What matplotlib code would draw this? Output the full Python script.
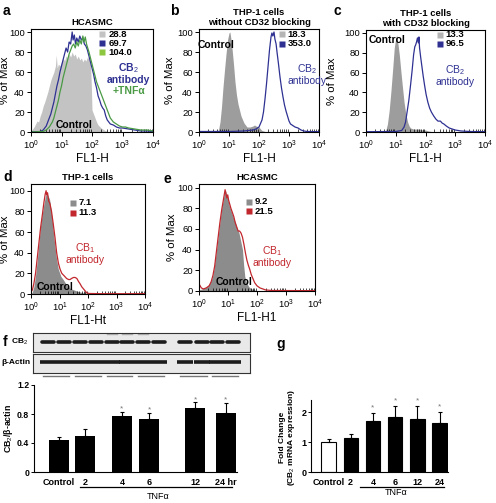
import numpy as np
import matplotlib
matplotlib.use("Agg")
import matplotlib.pyplot as plt
from matplotlib.ticker import LogLocator, NullFormatter
import matplotlib.transforms as mtrans

plt.rcParams['font.family'] = ['Liberation Sans', 'DejaVu Sans']
plt.rcParams['mathtext.fontset'] = 'custom'
plt.rcParams['mathtext.rm'] = 'Liberation Sans'
plt.rcParams['mathtext.bf'] = 'Liberation Sans:bold'
plt.rcParams['mathtext.it'] = 'Liberation Sans:italic'

# ---------------- data ----------------
# Panel a (HCASMC, CB2 +TNFa)
a_ctrl_logx = [0.0, 0.05, 0.1, 0.15, 0.2, 0.25, 0.3, 0.35, 0.4, 0.45, 0.5, 0.55, 0.6, 0.65, 0.7, 0.75, 0.8, 0.83, 0.86, 0.9, 0.95, 1.0, 1.05, 1.1, 1.15, 1.2, 1.25, 1.3, 1.35, 1.4, 1.45, 1.5, 1.55, 1.6, 1.65, 1.7, 1.75, 1.8, 1.85, 1.9, 1.95, 1.98, 2.0, 2.05, 2.1, 2.15, 2.2, 2.3, 2.4, 2.5, 2.6]
a_ctrl_pct = [1, 3, 5, 8, 11, 10, 16, 20, 26, 30, 35, 40, 46, 52, 56, 60, 66, 77, 64, 68, 66, 70, 74, 71, 76, 74, 78, 75, 80, 76, 78, 73, 76, 72, 74, 70, 73, 71, 75, 73, 70, 45, 22, 18, 14, 10, 7, 4, 2, 0.5, 0]
a_blue_logx = [0, 0.3, 0.4, 0.5, 0.55, 0.6, 0.65, 0.7, 0.75, 0.8, 0.85, 0.9, 0.95, 1.0, 1.05, 1.1, 1.15, 1.2, 1.25, 1.3, 1.35, 1.38, 1.42, 1.46, 1.5, 1.55, 1.6, 1.65, 1.7, 1.75, 1.8, 1.85, 1.9, 1.95, 2.0, 2.05, 2.1, 2.15, 2.2, 2.25, 2.3, 2.35, 2.4, 2.45, 2.5, 2.6, 2.7, 2.8, 2.9, 3.0, 3.2, 3.4, 3.6, 3.8, 4.0]
a_blue_pct = [0, 0.5, 2, 6, 10, 14, 18, 24, 30, 38, 46, 52, 60, 66, 72, 78, 84, 80, 90, 88, 100, 92, 97, 88, 94, 90, 96, 92, 94, 88, 86, 82, 76, 70, 64, 58, 50, 44, 36, 32, 27, 24, 22, 16, 12, 8, 7, 5, 4, 4, 3, 2, 1, 1, 0.5]
a_green_logx = [0, 0.4, 0.5, 0.6, 0.7, 0.75, 0.8, 0.85, 0.9, 0.95, 1.0, 1.05, 1.1, 1.15, 1.2, 1.25, 1.3, 1.35, 1.4, 1.45, 1.5, 1.55, 1.6, 1.65, 1.7, 1.74, 1.78, 1.82, 1.86, 1.9, 1.95, 2.0, 2.05, 2.1, 2.15, 2.2, 2.25, 2.3, 2.35, 2.4, 2.45, 2.5, 2.55, 2.6, 2.7, 2.8, 2.9, 3.0, 3.1, 3.2, 3.4, 3.6, 3.8, 4.0]
a_green_pct = [0, 0.5, 2, 5, 10, 14, 20, 26, 32, 40, 46, 54, 60, 66, 72, 78, 82, 86, 88, 84, 90, 86, 92, 88, 96, 90, 95, 88, 84, 80, 74, 68, 62, 56, 50, 46, 42, 38, 34, 30, 26, 22, 18, 14, 10, 8, 6, 5, 5, 4, 3, 2, 2, 1]
a_legend = ["28.8", "69.7", "104.0"]

# Panel b (THP-1 without CD32 blocking)
b_ctrl_logx = [0.6, 0.65, 0.7, 0.75, 0.8, 0.85, 0.9, 0.95, 1.0, 1.03, 1.06, 1.1, 1.15, 1.2, 1.25, 1.3, 1.4, 1.5, 1.6, 1.7, 1.8, 1.85, 1.9, 2.0, 2.05, 2.1, 2.2, 2.3]
b_ctrl_pct = [0, 2, 10, 25, 45, 62, 78, 92, 99, 100, 94, 84, 68, 50, 37, 28, 16, 9, 5, 5, 6, 7, 6, 5, 3, 1.5, 0.5, 0]
b_blue_logx = [0, 1.0, 1.5, 1.8, 1.9, 2.0, 2.1, 2.15, 2.2, 2.25, 2.3, 2.35, 2.4, 2.43, 2.46, 2.5, 2.53, 2.57, 2.6, 2.65, 2.7, 2.75, 2.8, 2.85, 2.9, 2.95, 3.0, 3.05, 3.1, 3.2, 3.3, 3.4, 3.5, 3.6, 4.0]
b_blue_pct = [0.5, 0.5, 1, 2, 3, 5, 12, 20, 33, 48, 65, 82, 95, 99, 96, 100, 93, 88, 80, 68, 55, 44, 35, 27, 21, 16, 11, 8, 7, 5, 4, 2, 1, 0.5, 0.3]
b_legend = ["18.3", "353.0"]

# Panel c (THP-1 with CD32 blocking)
c_ctrl_logx = [0.6, 0.66, 0.72, 0.78, 0.84, 0.9, 0.95, 1.0, 1.03, 1.07, 1.12, 1.17, 1.22, 1.28, 1.34, 1.4, 1.45, 1.5, 1.6, 1.7, 1.8, 1.9, 2.0, 2.1, 2.2, 2.3]
c_ctrl_pct = [0, 1, 8, 22, 42, 65, 85, 95, 98, 90, 78, 62, 47, 30, 18, 10, 6, 4, 3, 3, 3, 2, 2, 1, 0.5, 0]
c_blue_logx = [0, 1.0, 1.2, 1.28, 1.33, 1.38, 1.44, 1.5, 1.55, 1.6, 1.64, 1.67, 1.7, 1.73, 1.76, 1.78, 1.8, 1.84, 1.88, 1.92, 1.97, 2.02, 2.08, 2.14, 2.2, 2.28, 2.35, 2.42, 2.5, 2.56, 2.62, 2.7, 2.8, 2.9, 3.0, 3.2, 3.5, 4.0]
c_blue_pct = [0.3, 0.5, 1.5, 5, 10, 20, 32, 48, 62, 78, 86, 88, 91, 95, 90, 96, 85, 75, 66, 57, 47, 38, 30, 24, 20, 16, 13, 11, 11, 9, 8, 6, 4, 3, 2, 1, 0.5, 0.3]
c_legend = ["13.3", "96.5"]

# Panel d (THP-1, CB1)
d_ctrl_logx = [0, 0.05, 0.1, 0.16, 0.22, 0.28, 0.33, 0.38, 0.44, 0.5, 0.55, 0.6, 0.65, 0.7, 0.75, 0.8, 0.85, 0.9, 0.96, 1.05, 1.13, 1.22, 1.31, 1.4, 1.5, 1.6, 1.72, 1.85, 1.96, 2.1]
d_ctrl_pct = [0, 2, 7, 18, 33, 50, 65, 75, 85, 94, 98, 95, 92, 82, 70, 56, 44, 33, 24, 17, 14, 10, 7, 5, 4, 3, 2, 1, 0.5, 0]
d_red_logx = [0, 0.05, 0.1, 0.16, 0.22, 0.28, 0.34, 0.4, 0.45, 0.5, 0.53, 0.55, 0.58, 0.62, 0.66, 0.72, 0.78, 0.84, 0.9, 0.96, 1.02, 1.08, 1.15, 1.25, 1.32, 1.37, 1.42, 1.49, 1.55, 1.61, 1.67, 1.72, 1.78, 1.84, 1.9, 1.96, 2.05, 2.5, 4.0]
d_red_pct = [2, 4, 10, 20, 35, 50, 65, 77, 88, 97, 100, 96, 98, 90, 88, 80, 68, 55, 40, 30, 24, 20, 18, 15, 14, 14, 15, 16, 16, 15, 12, 10, 7, 5, 3, 1, 0.5, 0.3, 0.3]
d_legend = ["7.1", "11.3"]

# Panel e (HCASMC, CB1)
e_ctrl_logx = [0, 0.1, 0.2, 0.3, 0.4, 0.46, 0.52, 0.58, 0.64, 0.7, 0.76, 0.82, 0.88, 0.92, 0.96, 1.0, 1.05, 1.1, 1.15, 1.2, 1.26, 1.32, 1.38, 1.44, 1.5, 1.54, 1.58, 1.64, 1.72, 1.82, 1.92, 2.0]
e_ctrl_pct = [1, 2, 3, 5, 9, 13, 22, 35, 48, 62, 76, 86, 95, 97, 92, 88, 82, 78, 74, 70, 66, 60, 56, 48, 40, 25, 14, 8, 4, 2, 1, 0]
e_red_logx = [0, 0.04, 0.08, 0.15, 0.25, 0.35, 0.42, 0.48, 0.54, 0.6, 0.66, 0.72, 0.78, 0.84, 0.9, 0.93, 0.96, 0.99, 1.02, 1.06, 1.1, 1.15, 1.2, 1.25, 1.3, 1.35, 1.4, 1.45, 1.5, 1.55, 1.6, 1.65, 1.7, 1.75, 1.8, 1.86, 1.92, 2.0, 2.1, 2.2, 2.3, 2.5, 4.0]
e_red_pct = [7, 5, 3, 2, 3, 5, 9, 15, 24, 38, 52, 66, 78, 88, 98, 94, 90, 93, 88, 84, 80, 76, 72, 66, 62, 58, 58, 56, 52, 45, 37, 30, 25, 21, 16, 12, 8, 5, 3, 2, 1, 0.5, 0.3]
e_legend = ["9.2", "21.5"]

# Panel f (western blot quantification)
f_labels = ["Control", "2", "4", "6", "12", "24 hr"]
f_values = [0.44, 0.50, 0.77, 0.73, 0.88, 0.81]
f_errors = [0.04, 0.10, 0.06, 0.08, 0.08, 0.14]
f_signif = [False, False, True, True, True, True]

# Panel g (mRNA)
g_labels = ["Control", "2", "4", "6", "12", "24"]
g_values = [1.00, 1.12, 1.71, 1.82, 1.78, 1.63]
g_errors = [0.09, 0.15, 0.26, 0.39, 0.43, 0.37]
g_signif = [False, False, True, True, True, True]

# ---------------- layout helpers ----------------
W, H = 496, 503
fig = plt.figure(figsize=(W / 100, H / 100), dpi=100)


def px_axes(l, t, r, b):
    return fig.add_axes([l / W, 1 - b / H, (r - l) / W, (b - t) / H])


def ftext(x, y, s, **kw):
    fig.text(x / W, 1 - y / H, s, **kw)


BLUE = '#2e3192'
GREEN = '#4a9a45'
GREEN_L = '#8dc63f'
RED = '#c1272d'

TS = 6.8


def hist_axes(ax, ytop, xlabel, ylab_x):
    ax.set_xscale('log')
    ax.set_xlim(1, 1e4)
    ax.set_ylim(0, ytop)
    ax.set_xticks([1, 10, 100, 1000, 10000])
    ax.xaxis.set_minor_locator(LogLocator(base=10, subs=np.arange(2, 10), numticks=20))
    ax.xaxis.set_minor_formatter(NullFormatter())
    ax.set_yticks([0, 20, 40, 60, 80, 100])
    ax.tick_params(axis='both', which='major', labelsize=TS, length=3, width=0.7, direction='out', pad=1.5)
    ax.tick_params(axis='x', which='minor', length=2, width=0.5, direction='in')
    for s in ax.spines.values():
        s.set_linewidth(0.8)
    ax.set_xlabel(xlabel, fontsize=8.5, labelpad=1)
    ax.set_ylabel('% of Max', fontsize=8.2)
    ax.yaxis.set_label_coords(ylab_x, 0.5)


def lx(v):
    return [10 ** x for x in v]


def legend_entries(ax, x, y0, dy, labels, colors):
    for i, (lab, col) in enumerate(zip(labels, colors)):
        y = y0 - i * dy
        ax.plot([x], [y], marker='s', ms=5, color=col, mec='none', transform=ax.transAxes, clip_on=False)
        ax.text(x + 0.05, y, lab, transform=ax.transAxes, fontsize=TS, fontweight='bold', va='center', ha='left')


# ---------------- panel a ----------------
ax = px_axes(31, 29, 153, 132)
ax.fill_between(lx(a_ctrl_logx), 0, a_ctrl_pct, color='#c3c3c3', lw=0)
ax.plot(lx(a_blue_logx), a_blue_pct, color=BLUE, lw=0.9)
ax.plot(lx(a_green_logx), a_green_pct, color=GREEN, lw=0.9)
hist_axes(ax, 103, 'FL1-H', -0.17)
legend_entries(ax, 0.585, 0.95, 0.088, a_legend, ['#c3c3c3', BLUE, GREEN_L])
ax.text(0.80, 0.57, 'CB$_2$\nantibody', transform=ax.transAxes, color=BLUE, fontsize=7.5, fontweight='bold', ha='center', va='center', linespacing=1.0)
ax.text(0.80, 0.40, '+TNFα', transform=ax.transAxes, color=GREEN, fontsize=7.5, fontweight='bold', ha='center', va='center')
ax.text(0.35, 0.07, 'Control', transform=ax.transAxes, fontsize=7.5, fontweight='bold', ha='center', va='center')
ax.set_title('HCASMC', fontsize=TS, fontweight='bold', pad=3)

# ---------------- panel b ----------------
ax = px_axes(199, 29, 319, 132)
ax.fill_between(lx(b_ctrl_logx), 0, b_ctrl_pct, color='#9d9d9d', lw=0)
ax.plot(lx(b_blue_logx), b_blue_pct, color=BLUE, lw=0.9)
hist_axes(ax, 103, 'FL1-H', -0.2)
legend_entries(ax, 0.69, 0.95, 0.095, b_legend, ['#b5b5b5', BLUE])
ax.text(0.9, 0.565, 'CB$_2$\nantibody', transform=ax.transAxes, color=BLUE, fontsize=7.5, ha='center', va='center', linespacing=1.0)
ax.text(-0.01, 0.84, 'Control', transform=ax.transAxes, fontsize=7.5, fontweight='bold', ha='left', va='center')
ax.set_title('THP-1 cells\nwithout CD32 blocking', fontsize=TS, fontweight='bold', pad=3, linespacing=1.1)

# ---------------- panel c ----------------
ax = px_axes(366, 30, 485, 132)
ax.fill_between(lx(c_ctrl_logx), 0, c_ctrl_pct, color='#9d9d9d', lw=0)
ax.plot(lx(c_blue_logx), c_blue_pct, color=BLUE, lw=0.9)
hist_axes(ax, 103, 'FL1-H', -0.24)
legend_entries(ax, 0.62, 0.955, 0.09, c_legend, ['#b5b5b5', BLUE])
ax.text(0.75, 0.56, 'CB$_2$\nantibody', transform=ax.transAxes, color=BLUE, fontsize=7.5, ha='center', va='center', linespacing=1.0)
ax.text(0.02, 0.90, 'Control', transform=ax.transAxes, fontsize=7.5, fontweight='bold', ha='left', va='center')
ax.set_title('THP-1 cells\nwith CD32 blocking', fontsize=TS, fontweight='bold', pad=3, linespacing=1.1)

# ---------------- panel d ----------------
ax = px_axes(31, 184, 145, 294)
ax.fill_between(lx(d_ctrl_logx), 0, d_ctrl_pct, color='#8c8c8c', lw=0)
ax.plot(lx(d_red_logx), d_red_pct, color=RED, lw=0.9)
hist_axes(ax, 106.5, 'FL1-Ht', -0.18)
legend_entries(ax, 0.365, 0.83, 0.09, d_legend, ['#8c8c8c', RED])
ax.text(0.475, 0.37, 'CB$_1$\nantibody', transform=ax.transAxes, color=RED, fontsize=7.5, ha='center', va='center', linespacing=1.0)
ax.text(0.21, 0.06, 'Control', transform=ax.transAxes, fontsize=7.5, fontweight='bold', ha='center', va='center')
ax.set_title('THP-1 cells', fontsize=TS, fontweight='bold', pad=3)

# ---------------- panel e ----------------
ax = px_axes(199, 184, 315, 291)
ax.fill_between(lx(e_ctrl_logx), 0, e_ctrl_pct, color='#8c8c8c', lw=0)
ax.plot(lx(e_red_logx), e_red_pct, color=RED, lw=0.9)
hist_axes(ax, 103.5, 'FL1-H1', -0.19)
legend_entries(ax, 0.43, 0.835, 0.09, e_legend, ['#8c8c8c', RED])
ax.text(0.63, 0.33, 'CB$_1$\nantibody', transform=ax.transAxes, color=RED, fontsize=7.5, ha='center', va='center', linespacing=1.0)
ax.text(0.30, 0.08, 'Control', transform=ax.transAxes, fontsize=7.5, fontweight='bold', ha='center', va='center')
ax.set_title('HCASMC', fontsize=TS, fontweight='bold', pad=3)

# ---------------- panel f blot ----------------
lane_x = [48, 64, 80, 96, 112, 127, 143, 159, 185, 202, 217, 233]
bx = px_axes(33, 333, 250, 352)
bx.set_xlim(33, 250); bx.set_ylim(0, 1)
bx.set_facecolor('#e9e9e9')
bx.set_xticks([]); bx.set_yticks([])
for s in bx.spines.values():
    s.set_linewidth(0.8); s.set_color('#333333')
for i, x in enumerate(lane_x):
    bx.plot([x - 6, x + 6], [0.55, 0.55], color='#1c1c1c', lw=2.6, solid_capstyle='round')
    if 4 <= i <= 6:
        bx.plot([x - 5, x + 5], [0.95, 0.95], color='#b0b0b0', lw=1.0)
ax2 = px_axes(33, 354, 250, 373)
ax2.set_xlim(33, 250); ax2.set_ylim(0, 1)
ax2.set_facecolor('#e9e9e9')
ax2.set_xticks([]); ax2.set_yticks([])
for s in ax2.spines.values():
    s.set_linewidth(0.8); s.set_color('#333333')
for x in lane_x:
    ax2.plot([x - 8, x + 8], [0.58, 0.58], color='#1c1c1c', lw=2.6, solid_capstyle='butt')
ftext(28, 342, 'CB$_2$', fontsize=6, fontweight='bold', ha='right', va='center')
ftext(30, 362, 'β-Actin', fontsize=6, fontweight='bold', ha='right', va='center')
# lane group underlines
la = px_axes(33, 374, 250, 378)
la.set_xlim(33, 250); la.set_ylim(0, 1); la.axis('off')
for k in range(0, 12, 2):
    la.plot([lane_x[k] - 5, lane_x[k + 1] + 5], [0.5, 0.5], color='#777777', lw=1.0)

# ---------------- panel f bars ----------------
f_pos = [0, 1, 2.4, 3.45, 5.2, 6.35]
ax = px_axes(34, 385, 237, 472)
ax.bar(f_pos, f_values, width=0.76, color='black')
ax.errorbar(f_pos, f_values, yerr=[[0] * 6, f_errors], fmt='none', ecolor='black', elinewidth=0.8, capsize=1.5, capthick=0.8)
for p, v, e, s in zip(f_pos, f_values, f_errors, f_signif):
    if s:
        ax.text(p, v + e + 0.04, '*', ha='center', va='center', fontsize=6, color='#777777')
ax.set_xlim(-0.94, 6.78)
ax.set_ylim(0, 1.2)
ax.set_yticks([0, 0.4, 0.8, 1.2])
ax.set_yticklabels(['0', '0.4', '0.8', '1.2'])
ax.set_xticks(f_pos)
ax.set_xticklabels(f_labels, fontweight='bold')
ax.tick_params(axis='both', labelsize=6.5, length=2, width=0.7, pad=1.5)
ax.tick_params(axis='y', labelsize=6.2)
ax.tick_params(axis='x', length=0, pad=4)
for lab in ax.get_yticklabels():
    lab.set_fontweight('bold')
ax.spines['top'].set_visible(False)
ax.spines['right'].set_visible(False)
for s in ['left', 'bottom']:
    ax.spines[s].set_linewidth(0.8)
tr = mtrans.blended_transform_factory(ax.transData, ax.transAxes)
ax.plot([f_pos[1] - 0.2, f_pos[5] + 0.24], [-0.172, -0.172], color='black', lw=0.9, transform=tr, clip_on=False)
ax.text((f_pos[1] + f_pos[5]) / 2 + 0.1, -0.28, 'TNFα', transform=tr, fontsize=6.5, ha='center', va='center')
ftext(9, 428, 'CB$_2$/β-actin', fontsize=6.3, fontweight='bold', rotation=90, ha='center', va='center')

# ---------------- panel g ----------------
g_pos = list(range(len(g_values)))
ax = px_axes(311, 400, 448, 472)
colors = ['white'] + ['black'] * 5
ax.bar(g_pos, g_values, width=0.65, color=colors, edgecolor='black', linewidth=0.8)
ax.errorbar(g_pos, g_values, yerr=[[0] * 6, g_errors], fmt='none', ecolor='black', elinewidth=0.8, capsize=1.5, capthick=0.8)
for p, v, e, s in zip(g_pos, g_values, g_errors, g_signif):
    if s:
        ax.text(p, v + e + 0.17, '*', ha='center', va='center', fontsize=6, color='#777777')
ax.set_xlim(-0.79, 5.38)
ax.set_ylim(0, 2.4)
ax.set_yticks([0, 1, 2])
ax.set_xticks(g_pos)
ax.set_xticklabels(g_labels, fontweight='bold')
ax.tick_params(axis='both', labelsize=6.5, length=2, width=0.7, pad=1)
ax.tick_params(axis='x', length=0, pad=4)
for lab in ax.get_yticklabels():
    lab.set_fontweight('bold')
ax.spines['top'].set_visible(False)
ax.spines['right'].set_visible(False)
for s in ['left', 'bottom']:
    ax.spines[s].set_linewidth(0.8)
tr = mtrans.blended_transform_factory(ax.transData, ax.transAxes)
ax.plot([1.42, 5.2], [-0.208, -0.208], color='black', lw=0.9, transform=tr, clip_on=False)
ax.text(3.04, -0.29, 'TNFα', transform=tr, fontsize=6.5, ha='center', va='center')
ftext(288, 437, 'Fold Change\n(CB$_2$ mRNA expression)', fontsize=6.0, fontweight='bold', rotation=90,
      ha='center', va='center', multialignment='center', linespacing=1.1)

# ---------------- panel letters ----------------
for x, y, s in [(3, 11, 'a'), (170, 11, 'b'), (334, 11, 'c'), (3, 177, 'd'), (163, 179, 'e'), (3, 342, 'f'), (276, 344, 'g')]:
    ftext(x, y, s, fontsize=10, fontweight='bold', ha='left', va='center')

fig.savefig('out.png', dpi=100)
